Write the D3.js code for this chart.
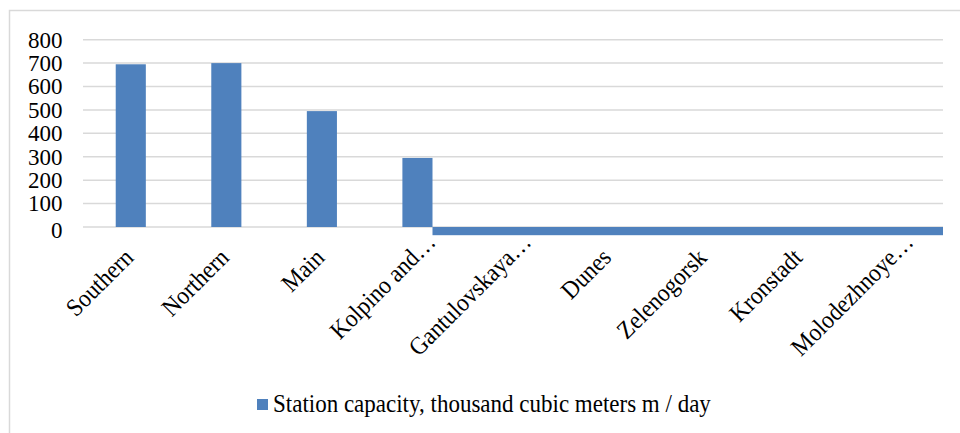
<!DOCTYPE html>
<html>
<head>
<meta charset="utf-8">
<script src="https://cdn.jsdelivr.net/npm/d3@7"></script>
<style>
  html, body { margin: 0; padding: 0; background: #fff; }
  svg { display: block; }
  text { font-family: "Liberation Serif", "Times New Roman", serif; fill: #000; }
</style>
</head>
<body>
<svg id="chart" width="960" height="433"></svg>
<script>
// ---- data ----
const categories = ["Southern", "Northern", "Main", "Kolpino and…", "Gantulovskaya…", "Dunes", "Zelenogorsk", "Kronstadt", "Molodezhnoye…"];
const capacities = [695, 700, 495, 295, null, null, null, null, null];
const yTicks = [0, 100, 200, 300, 400, 500, 600, 700, 800];
const seriesName = "Station capacity, thousand cubic meters m / day";
// band drawn below the zero line for the remaining stations (as in the source)
const bandValue = -35;

// ---- layout ----
const plot = { left: 83, right: 943, top: 39.7, bottom: 227 };
const barColor = "#4f81bd";
const gridColor = "#d9d9d9";
const fontSize = 25;
const yFontSize = 23;
const squeeze = 0.92; // horizontal condensation of the source text

const svg = d3.select("#chart");

// outer border
svg.append("rect")
  .attr("x", 9.5).attr("y", 10.5)
  .attr("width", 960).attr("height", 440)
  .attr("fill", "#fff")
  .attr("stroke", gridColor).attr("stroke-width", 1.5);

const x = d3.scaleBand()
  .domain(categories)
  .range([plot.left, plot.right])
  .paddingInner(0.685).paddingOuter(0.3425);

const y = d3.scaleLinear()
  .domain([0, 800])
  .range([plot.bottom, plot.top]);

// gridlines
svg.append("g").selectAll("line")
  .data(yTicks)
  .join("line")
  .attr("x1", plot.left).attr("x2", plot.right)
  .attr("y1", d => y(d)).attr("y2", d => y(d))
  .attr("stroke", gridColor).attr("stroke-width", 1.5);

// y axis labels
const yAxis = d3.axisLeft(y).tickValues(yTicks).tickSize(0).tickPadding(0).tickFormat(d3.format("d"));
const yg = svg.append("g")
  .attr("transform", `translate(${62.5},0)`)
  .call(yAxis);
yg.select(".domain").remove();
yg.selectAll(".tick text")
  .attr("font-size", yFontSize)
  .attr("fill", "#000")
  .attr("dy", d => d === 0 ? "0.45em" : "0.32em");

// bars
const barData = categories.map((c, i) => ({ c, v: capacities[i] })).filter(d => d.v != null);
svg.append("g").selectAll("rect")
  .data(barData)
  .join("rect")
  .attr("x", d => x(d.c))
  .attr("y", d => y(d.v))
  .attr("width", x.bandwidth())
  .attr("height", d => y(0) - y(d.v))
  .attr("fill", barColor);

// band under zero line for remaining stations
const lastBar = barData[barData.length - 1];
const bandStart = x(lastBar.c) + x.bandwidth();
svg.append("rect")
  .attr("x", bandStart)
  .attr("y", y(0))
  .attr("width", plot.right - bandStart)
  .attr("height", y(bandValue) - y(0))
  .attr("fill", barColor);

// x axis labels
const xg = svg.append("g");
xg.selectAll("text")
  .data(categories)
  .join("text")
  .attr("font-size", fontSize)
  .attr("text-anchor", "end")
  .attr("transform", d => {
    const cx = x(d) + x.bandwidth() / 2;
    const shift = d.endsWith("…") ? 22 : 0;
    return `translate(${cx + 4},${259}) rotate(-45) translate(${shift},0) scale(${squeeze},1)`;
  })
  .text(d => d);

// legend
const lg = svg.append("g");
lg.append("rect")
  .attr("x", 257).attr("y", 399)
  .attr("width", 11).attr("height", 11)
  .attr("fill", barColor);
lg.append("text")
  .attr("transform", `translate(273,411.5) scale(${squeeze},1)`)
  .attr("font-size", fontSize)
  .text(seriesName);
</script>
</body>
</html>
